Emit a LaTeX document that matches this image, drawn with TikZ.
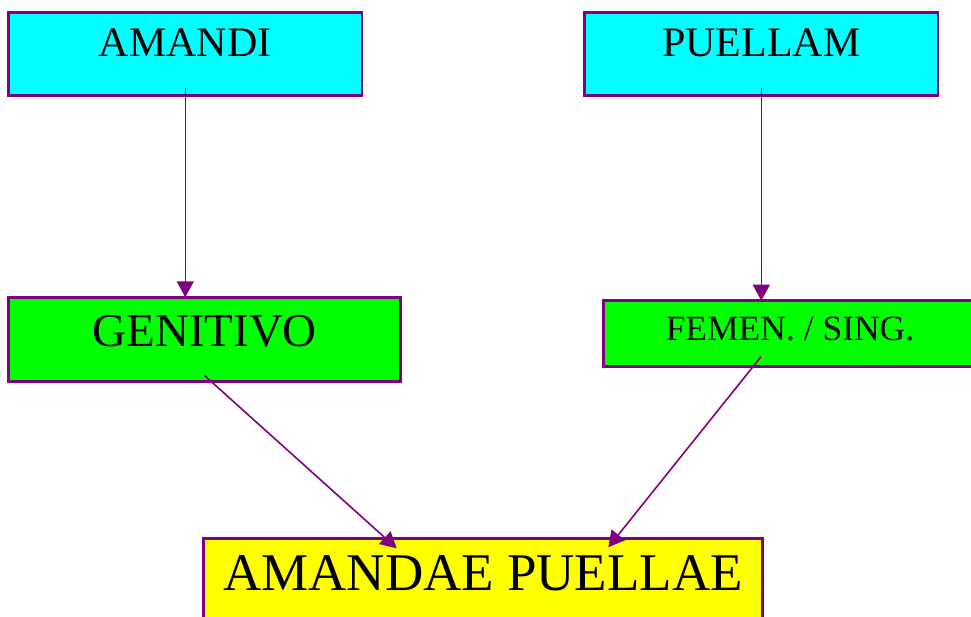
\documentclass[tikz,border=0pt]{standalone}
\usepackage{fontspec}
\setmainfont{Liberation Serif}
\usepackage{xcolor}
\usepackage{tikz}
\usetikzlibrary{calc}
\usetikzlibrary{arrows.meta}

\definecolor{boxpurple}{HTML}{800080}
\definecolor{topcyan}{HTML}{00FFFF}
\definecolor{midgreen}{HTML}{00FF00}
\definecolor{endyellow}{HTML}{FFFF00}

\begin{document}
\begin{tikzpicture}[x=1pt,y=-1pt,
      word style/.style={rectangle,draw=boxpurple,line width=2.6pt,
        inner sep=0pt,outer sep=0pt,anchor=base},
      arr style/.style={draw=boxpurple,line width=1.6pt,
        -{Triangle[width=17pt,length=16pt]}}
      ]
      \useasboundingbox (0,0) rectangle (971,617);
      \node[word style,fill=topcyan,minimum width=353.3pt,text height=44.7pt,
        text depth=38.7pt,font=\fontsize{42}{48}\selectfont] (amandi) at (185.3,57) {AMANDI};
      \node[word style,fill=topcyan,minimum width=353.3pt,text height=44.7pt,
        text depth=38.7pt,font=\fontsize{42}{48}\selectfont] (puellam) at (761.3,57) {PUELLAM};
      \node[word style,fill=midgreen,minimum width=392pt,text height=49.4pt,
        text depth=34.6pt,font=\fontsize{47}{54}\selectfont] (genitivo) at (204.7,346.7) {GENITIVO};
      \node[word style,fill=midgreen,minimum width=373.4pt,text height=40.3pt,
        text depth=25.3pt,font=\fontsize{35.5}{41}\selectfont] (femsing) at (790,341) {FEMEN. / SING.};
      \node[word style,fill=endyellow,minimum width=558.6pt,text height=51.3pt,
        text depth=45pt,font=\fontsize{53}{60}\selectfont] (result) at (483,590) {AMANDAE PUELLAE};
      % connectors
      \draw[arr style] ([yshift=7.4pt]amandi.south) -- (amandi.south |- genitivo.north);
      \draw[arr style] ([yshift=7.4pt]puellam.south) -- (puellam.south |- femsing.north);
      \draw[arr style] ([yshift=5.6pt]genitivo.south) -- ([xshift=-86.3pt,yshift=-9.6pt]result.north);
      \draw[arr style] ([xshift=-29pt,yshift=9.6pt]femsing.south) -- ([xshift=125.3pt,yshift=-8.6pt]result.north);
    \end{tikzpicture}
\end{document}
